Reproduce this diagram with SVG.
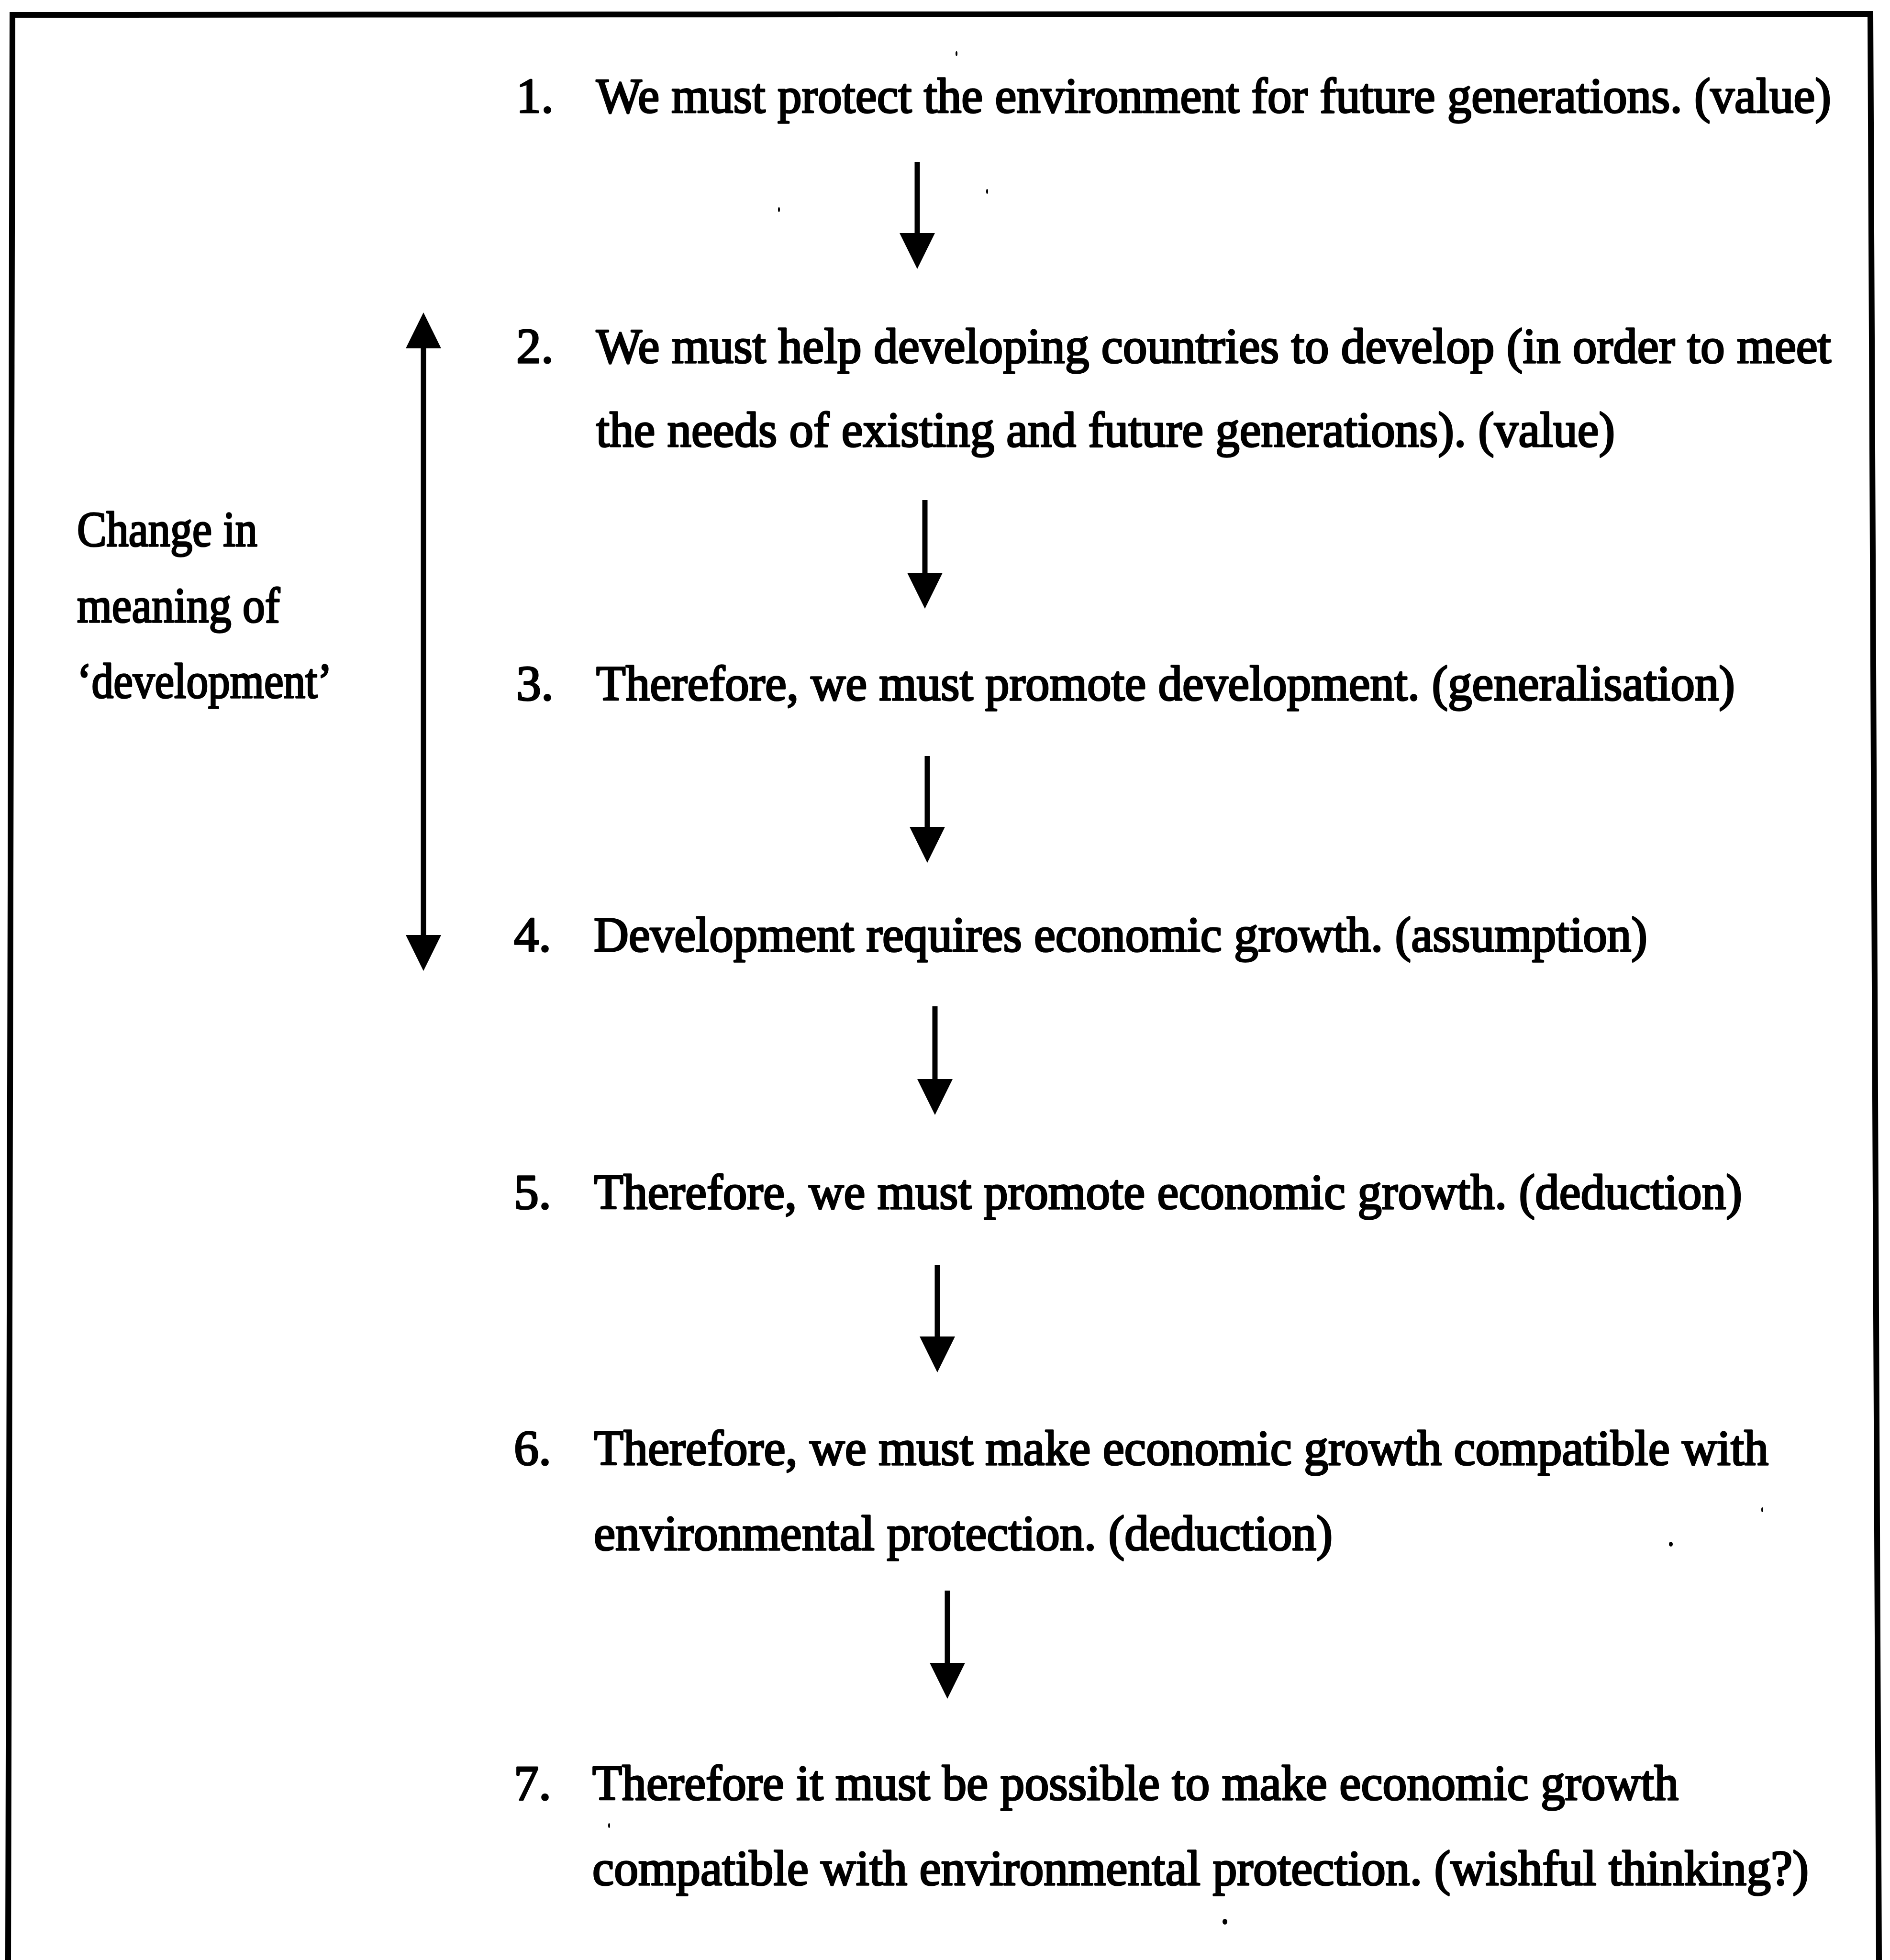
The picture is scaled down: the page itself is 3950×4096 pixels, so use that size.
<svg xmlns="http://www.w3.org/2000/svg" xmlns:xlink="http://www.w3.org/1999/xlink" width="3950" height="4096" viewBox="0 0 3950 4096">
  <style>
    text { font-family: "Liberation Serif", "Times New Roman", serif; font-size: 104px; fill: #000; stroke: #000; stroke-width: 3.5px; stroke-linejoin: round; }
    .shaft { stroke: #000; stroke-width: 11; fill: none; }
    .frame { stroke: #000; stroke-width: 12; fill: none; stroke-linejoin: miter; }
    .speck { fill: #000; }
  </style>
  <defs>
    <!-- filled arrowhead, tip at the origin, pointing down -->
    <path id="head" d="M0,0 L-37,-75 L37,-75 Z" fill="#000"/>
  </defs>

  <rect x="0" y="0" width="3950" height="4096" fill="#fff"/>

  <!-- outer frame (bottom edge runs off the page) -->
  <path class="frame" d="M17,4100 L26,31 L3909,29 L3927,4100"/>

  <!-- statements -->
  <g id="s1">
    <text x="1079" y="235">1.</text>
    <text x="1246" y="235" textLength="2581" lengthAdjust="spacingAndGlyphs">We must protect the environment for future generations. (value)</text>
  </g>
  <g id="s2">
    <text x="1079" y="758">2.</text>
    <text x="1246" y="758" textLength="2581" lengthAdjust="spacingAndGlyphs">We must help developing countries to develop (in order to meet</text>
    <text x="1246" y="933" textLength="2129" lengthAdjust="spacingAndGlyphs">the needs of existing and future generations). (value)</text>
  </g>
  <g id="s3">
    <text x="1079" y="1463">3.</text>
    <text x="1246" y="1463" textLength="2380" lengthAdjust="spacingAndGlyphs">Therefore, we must promote development. (generalisation)</text>
  </g>
  <g id="s4">
    <text x="1074" y="1988">4.</text>
    <text x="1241" y="1988" textLength="2202" lengthAdjust="spacingAndGlyphs">Development requires economic growth. (assumption)</text>
  </g>
  <g id="s5">
    <text x="1074" y="2526">5.</text>
    <text x="1241" y="2526" textLength="2400" lengthAdjust="spacingAndGlyphs">Therefore, we must promote economic growth. (deduction)</text>
  </g>
  <g id="s6">
    <text x="1074" y="3061">6.</text>
    <text x="1241" y="3061" textLength="2455" lengthAdjust="spacingAndGlyphs">Therefore, we must make economic growth compatible with</text>
    <text x="1241" y="3239" textLength="1544" lengthAdjust="spacingAndGlyphs">environmental protection. (deduction)</text>
  </g>
  <g id="s7">
    <text x="1074" y="3761">7.</text>
    <text x="1238" y="3761" textLength="2270" lengthAdjust="spacingAndGlyphs">Therefore it must be possible to make economic growth</text>
    <text x="1238" y="3939" textLength="2542" lengthAdjust="spacingAndGlyphs">compatible with environmental protection. (wishful thinking?)</text>
  </g>

  <!-- side label -->
  <g id="label">
    <text x="161" y="1141" textLength="377" lengthAdjust="spacingAndGlyphs">Change in</text>
    <text x="161" y="1300" textLength="424" lengthAdjust="spacingAndGlyphs">meaning of</text>
    <text x="161" y="1458" textLength="533" lengthAdjust="spacingAndGlyphs">‘development’</text>
  </g>

  <!-- connectors -->
  <g id="connectors">
    <line class="shaft" x1="1917" y1="338" x2="1917" y2="495"/>
    <use xlink:href="#head" x="1917" y="562"/>

    <line class="shaft" x1="1933" y1="1045" x2="1933" y2="1205"/>
    <use xlink:href="#head" x="1933" y="1272"/>

    <line class="shaft" x1="1938" y1="1580" x2="1938" y2="1736"/>
    <use xlink:href="#head" x="1938" y="1803"/>

    <line class="shaft" x1="1954" y1="2103" x2="1954" y2="2263"/>
    <use xlink:href="#head" x="1954" y="2330"/>

    <line class="shaft" x1="1959" y1="2644" x2="1959" y2="2801"/>
    <use xlink:href="#head" x="1959" y="2868"/>

    <line class="shaft" x1="1980" y1="3324" x2="1980" y2="3483"/>
    <use xlink:href="#head" x="1980" y="3550"/>

    <!-- two-headed arrow beside the label -->
    <line class="shaft" x1="885" y1="720" x2="885" y2="1962"/>
    <use xlink:href="#head" transform="translate(885,653) rotate(180)"/>
    <use xlink:href="#head" x="885" y="2029"/>
  </g>

  <!-- small ink specks -->
  <g id="specks">
    <ellipse class="speck" cx="1999" cy="112" rx="2" ry="5"/>
    <ellipse class="speck" cx="1628" cy="438" rx="2" ry="5"/>
    <ellipse class="speck" cx="2063" cy="400" rx="2" ry="5"/>
    <ellipse class="speck" cx="3492" cy="3227" rx="4" ry="5"/>
    <ellipse class="speck" cx="3683" cy="3155" rx="2" ry="5"/>
    <ellipse class="speck" cx="1273" cy="3815" rx="2" ry="5"/>
    <ellipse class="speck" cx="2560" cy="4016" rx="5" ry="6"/>
  </g>
</svg>
